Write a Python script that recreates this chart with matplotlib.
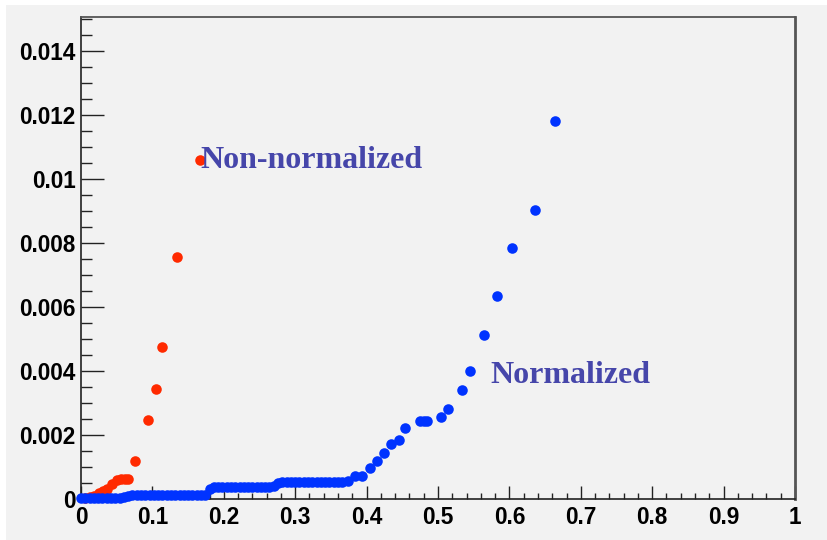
import matplotlib
matplotlib.use("Agg")
import matplotlib.pyplot as plt
from matplotlib.patches import Rectangle
from matplotlib.ticker import MultipleLocator

# non-normalized series (red)
red_x = [0.005, 0.012, 0.018, 0.025, 0.031, 0.037, 0.044, 0.050, 0.056, 0.061,
         0.066, 0.075, 0.094, 0.105, 0.113, 0.134, 0.166]
red_y = [0.00002, 0.00005, 0.0001, 0.0002, 0.00024, 0.0003, 0.00048, 0.0006,
         0.00063, 0.00063, 0.00062, 0.0012, 0.00247, 0.00344, 0.00475, 0.00756, 0.01059]

# normalized series (blue)
blue_x = [0.000, 0.006, 0.012, 0.018, 0.024, 0.030, 0.036, 0.042, 0.048, 0.054,
          0.060, 0.066, 0.072, 0.078, 0.084, 0.090, 0.096, 0.102, 0.108, 0.114,
          0.120, 0.126, 0.132, 0.138, 0.144, 0.150, 0.156, 0.162, 0.168, 0.174,
          0.180, 0.186, 0.192, 0.198, 0.204, 0.210, 0.216, 0.222, 0.228, 0.234,
          0.240, 0.246, 0.252, 0.258, 0.264, 0.270, 0.276, 0.282, 0.288, 0.294,
          0.300, 0.306, 0.312, 0.318, 0.324, 0.330, 0.336, 0.342, 0.348, 0.354,
          0.360, 0.366, 0.374, 0.384, 0.394, 0.405, 0.414, 0.425, 0.434, 0.445,
          0.454, 0.475, 0.480, 0.484, 0.504, 0.514, 0.534, 0.545, 0.565, 0.583,
          0.604, 0.636, 0.664]
blue_y = [0.00003, 0.00003, 0.00003, 0.00003, 0.00003, 0.00003, 0.00003, 0.00003, 0.00003, 0.00004,
          0.00006, 0.00009, 0.00012, 0.00013, 0.00013, 0.00013, 0.00013, 0.00013, 0.00013, 0.00013,
          0.00013, 0.00013, 0.00013, 0.00013, 0.00013, 0.00013, 0.00013, 0.00013, 0.00013, 0.00014,
          0.00030, 0.00037, 0.00037, 0.00037, 0.00037, 0.00037, 0.00037, 0.00037, 0.00037, 0.00037,
          0.00037, 0.00037, 0.00037, 0.00037, 0.00037, 0.00040, 0.00050, 0.00052, 0.00052, 0.00052,
          0.00052, 0.00052, 0.00052, 0.00052, 0.00052, 0.00052, 0.00052, 0.00052, 0.00052, 0.00052,
          0.00052, 0.00052, 0.00057, 0.00073, 0.00073, 0.00096, 0.00120, 0.00145, 0.00172, 0.00184,
          0.00221, 0.00245, 0.00245, 0.00245, 0.00257, 0.00281, 0.00341, 0.00401, 0.00513, 0.00634,
          0.00784, 0.00903, 0.01181]

x_ticks = [0, 0.1, 0.2, 0.3, 0.4, 0.5, 0.6, 0.7, 0.8, 0.9, 1.0]
x_labels = ['0', '0.1', '0.2', '0.3', '0.4', '0.5', '0.6', '0.7', '0.8', '0.9', '1']
y_ticks = [0, 0.002, 0.004, 0.006, 0.008, 0.010, 0.012, 0.014]
y_labels = ['0', '0.002', '0.004', '0.006', '0.008', '0.01', '0.012', '0.014']

W, H = 827, 540
fig = plt.figure(figsize=(W / 100, H / 100), dpi=100, facecolor='white')
# gray canvas (ROOT style pad), kept behind the axes
canvas = Rectangle((6 / W, 0), 1 - 6 / W, 1 - 5 / H, transform=fig.transFigure,
                   facecolor='#f2f2f2', edgecolor='none', zorder=-10)
fig.add_artist(canvas)

ax = fig.add_axes([81 / W, 41 / H, 714 / W, 482 / H])
ax.set_zorder(1)
ax.set_facecolor('#f2f2f2')

ax.plot(red_x, red_y, 'o', color='#ff2a00', markersize=7.6, markeredgewidth=0, clip_on=False, zorder=3)
ax.plot(blue_x, blue_y, 'o', color='#0033ff', markersize=7.6, markeredgewidth=0, clip_on=False, zorder=4)

ax.set_xlim(0, 1)
ax.set_ylim(0, 0.01506)

ax.set_xticks(x_ticks)
ax.set_xticklabels(x_labels)
ax.set_yticks(y_ticks)
ax.set_yticklabels(y_labels)
ax.xaxis.set_minor_locator(MultipleLocator(0.02))
ax.yaxis.set_minor_locator(MultipleLocator(0.0005))

for lab in ax.get_xticklabels() + ax.get_yticklabels():
    lab.set_fontfamily('Liberation Sans')
    lab.set_fontweight('bold')
    lab.set_fontsize(16.3)

ax.tick_params(axis='x', which='major', direction='in', length=9.4, width=1, color='#222', pad=5)
ax.tick_params(axis='x', which='minor', direction='in', length=4.3, width=1, color='#222')
ax.tick_params(axis='y', which='major', direction='in', length=16.3, width=1, color='#222', pad=4)
ax.tick_params(axis='y', which='minor', direction='in', length=7.9, width=1, color='#222')

ax.spines['left'].set_color('#222')
ax.spines['bottom'].set_color('#222')
ax.spines['left'].set_linewidth(1.2)
ax.spines['bottom'].set_linewidth(1.2)
ax.spines['top'].set_color('#555')
ax.spines['top'].set_linewidth(1.3)
ax.spines['right'].set_color('#555')
ax.spines['right'].set_linewidth(2)

txt = dict(family='Liberation Serif', weight='bold', size=23, color='#4646aa')
ax.text(0.1675, 0.01034, 'Non-normalized', ha='left', va='baseline', **txt)
ax.text(0.573, 0.003625, 'Normalized', ha='left', va='baseline', **txt)

fig.savefig('out.png', dpi=100, facecolor='white')
